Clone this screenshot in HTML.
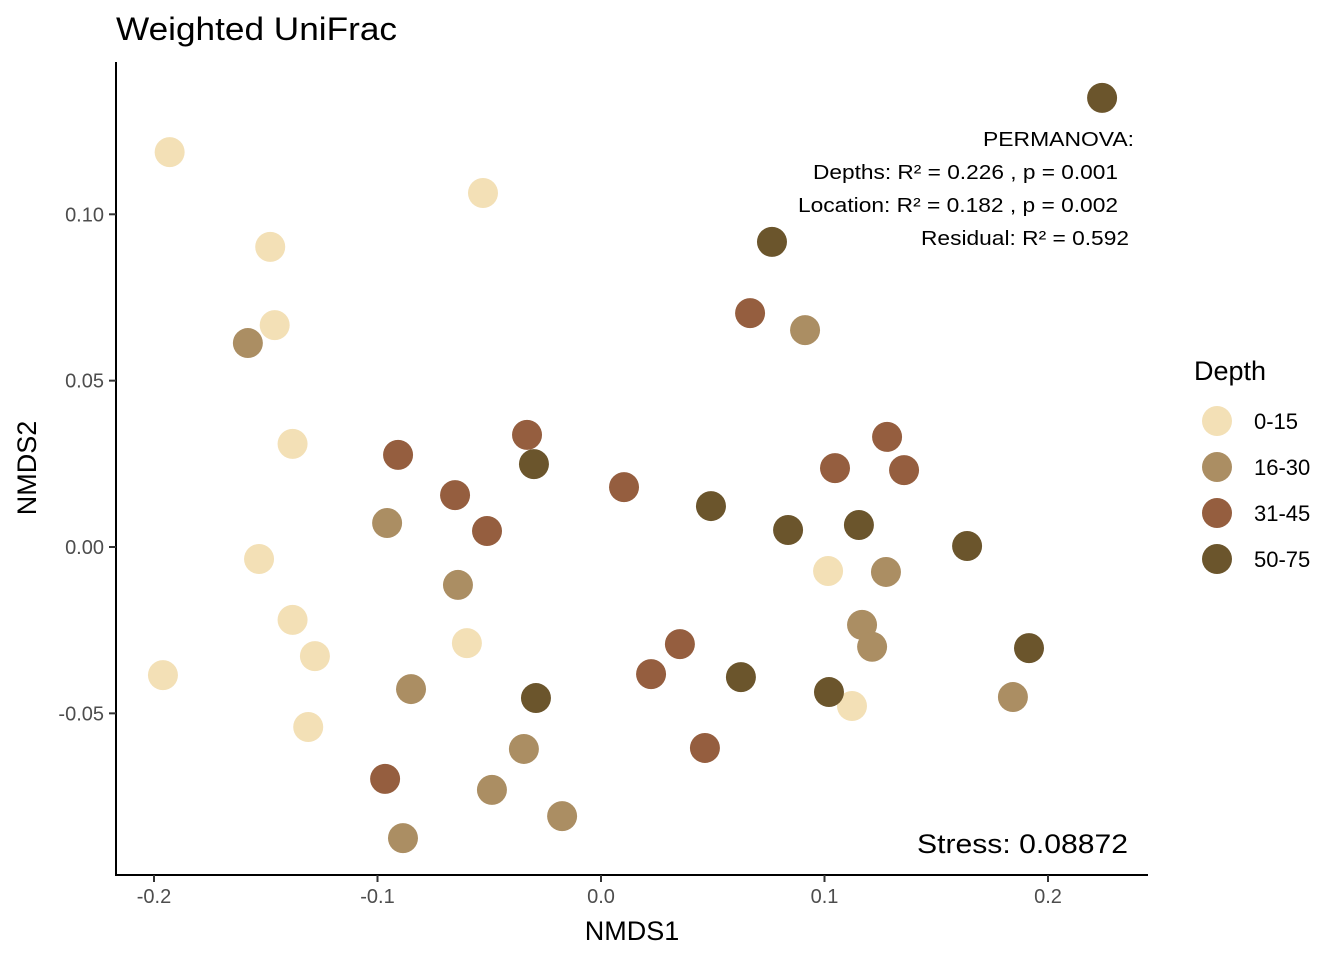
<!DOCTYPE html>
<html><head><meta charset="utf-8">
<style>
html,body{margin:0;padding:0;background:#fff;}
svg{display:block;font-family:"Liberation Sans",Arial,sans-serif;}
</style></head>
<body>
<svg id="chart" width="1344" height="960" viewBox="0 0 1344 960" xmlns="http://www.w3.org/2000/svg">
<text x="116" y="40" font-size="32" fill="#000" textLength="281" lengthAdjust="spacingAndGlyphs">Weighted UniFrac</text>
<g id="plot"></g>
<line x1="116" y1="62" x2="116" y2="876" stroke="#000" stroke-width="2"/>
<line x1="115" y1="875" x2="1148" y2="875" stroke="#000" stroke-width="2"/>
<g id="xticks"></g>
<g id="yticks"></g>
<text x="632" y="940" font-size="27" text-anchor="middle">NMDS1</text>
<text transform="translate(36,468) rotate(-90)" font-size="27" text-anchor="middle">NMDS2</text>
<g font-size="20" fill="#000">
<text x="983" y="146" textLength="151" lengthAdjust="spacingAndGlyphs">PERMANOVA:</text>
<text x="813" y="179" textLength="305" lengthAdjust="spacingAndGlyphs">Depths: R² = 0.226 , p = 0.001</text>
<text x="798" y="212" textLength="320" lengthAdjust="spacingAndGlyphs">Location: R² = 0.182 , p = 0.002</text>
<text x="921" y="245" textLength="208" lengthAdjust="spacingAndGlyphs">Residual: R² = 0.592</text>
</g>
<text x="917" y="853" font-size="27" textLength="211" lengthAdjust="spacingAndGlyphs">Stress: 0.08872</text>
<text x="1194" y="380" font-size="27">Depth</text>
<g id="legend"></g>
</svg>
<script>
const groups = ["0-15","16-30","31-45","50-75"];
const colors = ["#F3E0B6","#AB8E63","#955E3F","#6B552C"];
const xs0 = [-0.193,-0.0528,-0.148,-0.146,-0.138,-0.153,-0.138,-0.128,-0.196,-0.131,-0.060,0.1016,0.1123];
const ys0 = [0.1187,0.1064,0.0902,0.0667,0.031,-0.0036,-0.0219,-0.0328,-0.0385,-0.0541,-0.0289,-0.0072,-0.0478];
const xs1 = [-0.158,0.0913,-0.0957,-0.064,-0.085,-0.0345,-0.0488,-0.0174,-0.0886,0.1168,0.1213,0.1275,0.1843];
const ys1 = [0.0613,0.0652,0.0072,-0.0114,-0.0427,-0.0607,-0.073,-0.0809,-0.0875,-0.0234,-0.030,-0.0075,-0.0451];
const xs2 = [0.0667,-0.0908,-0.0331,-0.0653,-0.051,0.0103,0.1047,0.128,0.1356,0.0353,0.0224,0.0465,-0.0966];
const ys2 = [0.0703,0.0277,0.0337,0.0156,0.0048,0.018,0.0237,0.0331,0.0231,-0.0292,-0.0382,-0.0604,-0.0697];
const xs3 = [0.2242,0.0765,-0.030,0.0492,0.0837,0.1154,0.1638,0.1915,0.0626,0.102,-0.0291];
const ys3 = [0.135,0.0917,0.0249,0.0123,0.0051,0.0066,0.0003,-0.0304,-0.0391,-0.0436,-0.0454];
const xTicks = [-0.2,-0.1,0.0,0.1,0.2];
const xTickLabels = ["-0.2","-0.1","0.0","0.1","0.2"];
const yTicks = [0.10,0.05,0.00,-0.05];
const yTickLabels = ["0.10","0.05","0.00","-0.05"];

const NS="http://www.w3.org/2000/svg";
function xScale(v){return 601+v*2235;}
function yScale(v){return 547-v*3327;}
function mk(tag,attrs,parent){const e=document.createElementNS(NS,tag);for(const k in attrs)e.setAttribute(k,attrs[k]);parent.appendChild(e);return e;}

const plot=document.getElementById('plot');
const series=[[xs0,ys0],[xs1,ys1],[xs2,ys2],[xs3,ys3]];
series.forEach((s,g)=>{
  s[0].forEach((xv,i)=>{
    const c=mk('circle',{cx:xScale(xv),cy:yScale(s[1][i]),r:15,fill:colors[g]},plot);
    
    
  });
});
const xt=document.getElementById('xticks');
xTicks.forEach((v,i)=>{
  const l=mk('line',{x1:xScale(v),x2:xScale(v),y1:875,y2:882,stroke:'#333','stroke-width':2},xt);
  
  
  const t=mk('text',{x:xScale(v),y:903,'font-size':20,'text-anchor':'middle',fill:'#4d4d4d'},xt);
  t.textContent=xTickLabels[i];
  
  
});
const yt=document.getElementById('yticks');
yTicks.forEach((v,i)=>{
  const l=mk('line',{x1:109,x2:116,y1:yScale(v),y2:yScale(v),stroke:'#333','stroke-width':2},yt);
  
  
  const t=mk('text',{x:104,y:yScale(v)+7,'font-size':20,'text-anchor':'end',fill:'#4d4d4d'},yt);
  t.textContent=yTickLabels[i];
  
  
});
const lg=document.getElementById('legend');
groups.forEach((g,i)=>{
  const y=421+i*46;
  const c=mk('circle',{cx:1217,cy:y,r:15,fill:colors[i]},lg);
  
  
  const t=mk('text',{x:1254,y:y+8,'font-size':22,fill:'#000'},lg);
  t.textContent=g;
  
  
});
</script>
</body></html>
